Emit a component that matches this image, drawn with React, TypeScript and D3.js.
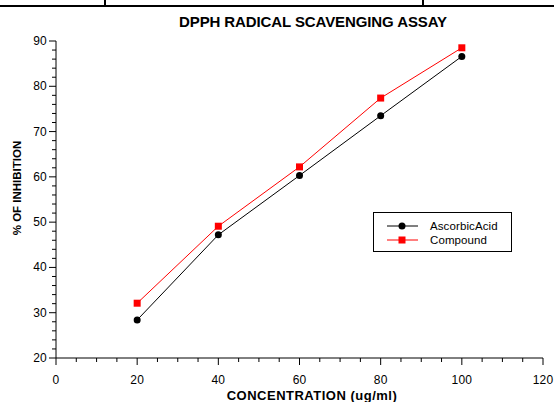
import React from 'react';
import * as d3 from 'd3';

// chart values
const concentrations = [20, 40, 60, 80, 100];
const ascorbicAcid = [28.4, 47.2, 60.3, 73.5, 86.6];
const compound = [32.1, 49.1, 62.2, 77.4, 88.5];
const xTicks = [0, 20, 40, 60, 80, 100, 120];
const yTicks = [20, 30, 40, 50, 60, 70, 80, 90];
const seriesNames = ['AscorbicAcid', 'Compound'];

const W = 554;
const H = 402;
const font = '"Liberation Sans", Arial, sans-serif';

const App = () => {
  const x = d3.scaleLinear().domain([0, 120]).range([56, 543]);
  const y = d3.scaleLinear().domain([20, 90]).range([358, 41]);

  const line = d3.line<number>()
    .x((d, i) => x(concentrations[i]))
    .y(d => y(d));

  const xMinor = d3.range(0, 121, 5).filter(v => v % 20 !== 0);
  const yMinor = d3.range(20, 91, 2).filter(v => v % 10 !== 0);

  return (
    <svg width={W} height={H} style={{ position: 'absolute', left: 0, top: 0, background: '#fff' }}
      fontFamily={font}>
      {/* frame remnant at the top */}
      <line x1={0} x2={W} y1={6} y2={6} stroke="#000" strokeWidth={2} />
      <line x1={105} x2={105} y1={0} y2={6} stroke="#000" strokeWidth={2} />
      <line x1={423} x2={423} y1={0} y2={6} stroke="#000" strokeWidth={2} />

      <text x={313} y={27} textAnchor="middle" fontSize={15} fontWeight="bold" letterSpacing={-0.1}>
        DPPH RADICAL SCAVENGING ASSAY
      </text>

      {/* y axis */}
      <line x1={x(0)} x2={x(0)} y1={y(90)} y2={y(20)} stroke="#000" />
      {yTicks.map(v => (
        <g key={'y' + v}>
          <line x1={x(0) - 7} x2={x(0)} y1={y(v)} y2={y(v)} stroke="#000" />
          <text x={x(0) - 9} y={y(v) + 4} textAnchor="end" fontSize={12} letterSpacing={0.2}>{v}</text>
        </g>
      ))}
      {yMinor.map(v => (
        <line key={'ym' + v} x1={x(0) - 4} x2={x(0)} y1={y(v)} y2={y(v)} stroke="#000" />
      ))}

      {/* x axis */}
      <line x1={x(0)} x2={x(120)} y1={y(20)} y2={y(20)} stroke="#000" />
      {xTicks.map(v => (
        <g key={'x' + v}>
          <line x1={x(v)} x2={x(v)} y1={y(20)} y2={y(20) + 7} stroke="#000" />
          <text x={x(v)} y={y(20) + 26} textAnchor="middle" fontSize={12} letterSpacing={0.2}>{v}</text>
        </g>
      ))}
      {xMinor.map(v => (
        <line key={'xm' + v} x1={x(v)} x2={x(v)} y1={y(20)} y2={y(20) + 4} stroke="#000" />
      ))}

      <text x={312} y={399.5} textAnchor="middle" fontSize={13} fontWeight="bold" letterSpacing={0.5}>
        CONCENTRATION (ug/ml)
      </text>
      <text transform={`translate(21,${188}) rotate(-90)`} textAnchor="middle" fontSize={11.5}
        fontWeight="bold" letterSpacing={0}>
        % OF INHIBITION
      </text>

      {/* series */}
      <path d={line(ascorbicAcid) ?? ''} fill="none" stroke="#000" strokeWidth={1} />
      <path d={line(compound) ?? ''} fill="none" stroke="#f00" strokeWidth={1} />
      {ascorbicAcid.map((v, i) => (
        <circle key={'a' + i} cx={x(concentrations[i])} cy={y(v)} r={3.5} fill="#000" />
      ))}
      {compound.map((v, i) => (
        <rect key={'c' + i} x={x(concentrations[i]) - 3.5} y={y(v) - 3.5} width={7} height={7} fill="#f00" />
      ))}

      {/* legend */}
      <rect x={373.5} y={212.5} width={138} height={39} fill="#fff" stroke="#000" />
      {seriesNames.map((name, i) => {
        const ly = 226 + i * 14;
        const c = i === 0 ? '#000' : '#f00';
        return (
          <g key={name}>
            <line x1={387} x2={418} y1={ly} y2={ly} stroke={c} />
            {i === 0
              ? <circle cx={402} cy={ly} r={3.5} fill={c} />
              : <rect x={398.5} y={ly - 3.5} width={7} height={7} fill={c} />}
            <text x={430} y={ly + 4} fontSize={11.5} letterSpacing={0.1}>{name}</text>
          </g>
        );
      })}
    </svg>
  );
};

export default App;
